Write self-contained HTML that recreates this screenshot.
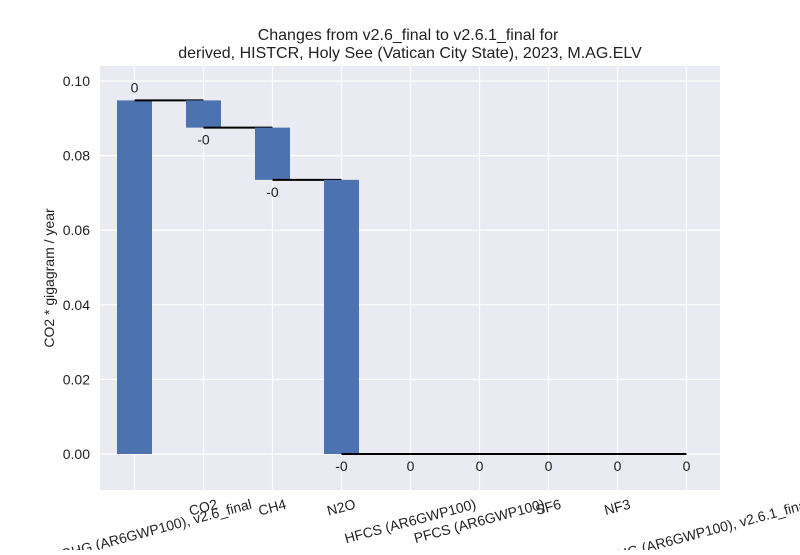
<!DOCTYPE html>
<html><head><meta charset="utf-8"><style>body{margin:0;background:#fff}svg{font-family:"Liberation Sans",sans-serif}</style></head>
<body>
<svg width="800" height="550" id="c">
<rect x="0" y="0" width="800" height="550" fill="#fff"/>
<text x="408" y="40" font-size="16" text-anchor="middle" fill="#222">Changes from v2.6_final to v2.6.1_final for</text>
<text x="410" y="58" font-size="16" text-anchor="middle" fill="#222">derived, HISTCR, Holy See (Vatican City State), 2023, M.AG.ELV</text>
<rect x="100" y="66" width="620" height="424" fill="#eaeaf2"/>
<g id="grid"></g><g id="bars"></g><g id="labels"></g>
<text transform="translate(54,278) rotate(-90)" font-size="14" text-anchor="middle" fill="#222">CO2 * gigagram / year</text>
</svg>
<script>
const categories=["GHG (AR6GWP100), v2.6_final","CO2","CH4","N2O","HFCS (AR6GWP100)","PFCS (AR6GWP100)","SF6","NF3","GHG (AR6GWP100), v2.6.1_final"];
const deltas=[0.0948,-0.0073,-0.0140,-0.0735,0,0,0,0,0];
const valueLabels=["0","-0","-0","-0","0","0","0","0","0"];
const yTicks=[0,0.02,0.04,0.06,0.08,0.10];
const yTickLabels=["0.00","0.02","0.04","0.06","0.08","0.10"];
const NS="http://www.w3.org/2000/svg";
const y=v=>454-(v/0.1)*373;
const x=i=>134.5+i*69;
function mk(t,a,p){const e=document.createElementNS(NS,t);for(const k in a)e.setAttribute(k,a[k]);p.appendChild(e);return e;}
const grid=document.getElementById('grid'),bars=document.getElementById('bars'),lab=document.getElementById('labels');
yTicks.forEach((t,i)=>{
 const l=mk('line',{x1:100,x2:720,y1:y(t),y2:y(t),stroke:'#fff','stroke-width':1.2},grid);
 
 
 const tx=mk('text',{x:90,y:y(t)+5,'font-size':14,'text-anchor':'end',fill:'#222'},grid);
 tx.textContent=yTickLabels[i];
 
 
});
const th=15*Math.PI/180;
categories.forEach((c,i)=>{
 const l=mk('line',{x1:x(i),x2:x(i),y1:66,y2:490,stroke:'#fff','stroke-width':1.2},grid);
 
 
 const tx=mk('text',{x:0,y:0,'font-size':14,'text-anchor':'middle','dominant-baseline':'middle',fill:'#222'},lab);
 tx.textContent=c;
 
 
 const w=tx.getComputedTextLength();
 const hh=Math.abs(w*Math.sin(th))+14*Math.cos(th);
 const cx=x(i)+(w>180?22:0);
 const cy=498+hh/2;
 tx.setAttribute('transform',`translate(${cx},${cy}) rotate(-15)`);
});
let cum=0;
const last=categories.length-1;
deltas.forEach((d,i)=>{
 let top,bot;
 if(i===0){top=d;bot=0;cum=d;}
 else if(i===last){top=cum;bot=0;}
 else {const prev=cum;cum+=d;top=Math.max(prev,cum);bot=Math.min(prev,cum);}
 const h=Math.abs(y(bot)-y(top));
 if(h>0.5){const r=mk('rect',{x:x(i)-17.5,y:y(top),width:35,height:h,fill:'#4c72b0'},bars);
 
 }
 if(i<=3){const endX=(i===3)?x(last):x(i+1);
  const ln=mk('line',{x1:x(i),x2:endX,y1:y(cum),y2:y(cum),stroke:'#000','stroke-width':2},bars);
  
  }
 const ly=(i===0)?y(cum)-8:(i<=3?y(cum)+17:y(0)+17);
 const t=mk('text',{x:x(i),y:ly,'font-size':14,'text-anchor':'middle',fill:'#222'},lab);
 t.textContent=valueLabels[i];
 
 
});
</script>
</body></html>
